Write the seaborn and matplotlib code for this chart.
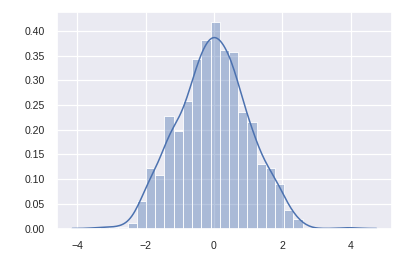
import numpy as np
import pandas as pd
import seaborn as sns
import matplotlib
matplotlib.use("Agg")
import matplotlib.pyplot as plt
from matplotlib.ticker import FormatStrFormatter

# ---- data (1000-ish draws, 27 histogram bins) ----
data_min = -3.335          # smallest observation
data_max = 3.945           # largest observation
bin_counts = [1, 1, 1, 3, 15, 33, 29, 61, 53, 69, 92, 102, 112, 97, 96,
              63, 58, 35, 33, 24, 10, 5, 0, 0, 0, 0, 1]
y_ticks = [0.00, 0.05, 0.10, 0.15, 0.20, 0.25, 0.30, 0.35, 0.40]
x_ticks = [-4, -2, 0, 2, 4]

# rebuild the sample from the binned counts
n_bins = len(bin_counts)
edges = np.linspace(data_min, data_max, n_bins + 1)
centers = (edges[:-1] + edges[1:]) / 2
sample = np.repeat(centers, bin_counts)
sample[0] = data_min
sample[-1] = data_max
df = pd.DataFrame({"x": sample})

sns.set_theme(style="darkgrid", context="notebook", font_scale=0.69)
plt.rcParams["font.family"] = ["Liberation Sans", "DejaVu Sans"]
plt.rcParams["grid.linewidth"] = 0.9
plt.rcParams["xtick.major.pad"] = 2.8
plt.rcParams["ytick.major.pad"] = 2.8

fig, ax = plt.subplots(figsize=(4.15, 2.61), dpi=100)
fig.subplots_adjust(left=0.1373, right=0.9439, top=0.9552, bottom=0.1245)

sns.histplot(data=df, x="x", bins=n_bins, stat="density", kde=True,
             color="#4C72B0", alpha=0.4, edgecolor="white", linewidth=0.6,
             kde_kws={"cut": 3, "bw_adjust": 1.06},
             line_kws={"linewidth": 1.1}, ax=ax)

ax.set_xlabel("")
ax.set_ylabel("")
ax.set_yticks(y_ticks)
ax.yaxis.set_major_formatter(FormatStrFormatter("%.2f"))
ax.set_xticks(x_ticks)
ax.tick_params(labelcolor="#262626")

fig.savefig("out.png", dpi=100)
